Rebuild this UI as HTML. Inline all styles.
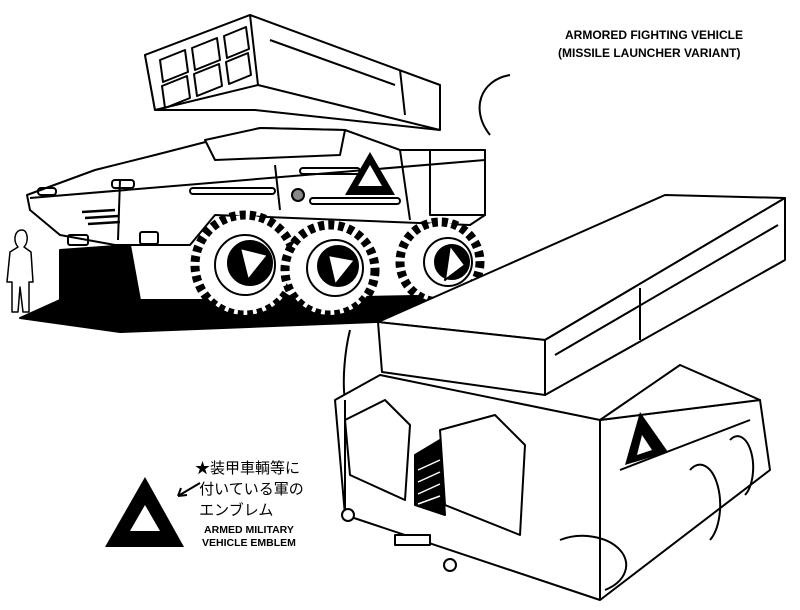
<!DOCTYPE html>
<html><head><meta charset="utf-8"><style>
html,body{margin:0;padding:0;background:#fff;width:800px;height:610px;overflow:hidden}
svg{display:block}
text{font-family:"Liberation Sans","Noto Sans CJK JP",sans-serif;fill:#000}
</style></head><body>
<svg width="800" height="610" viewBox="0 0 800 610" xmlns="http://www.w3.org/2000/svg" stroke="#000" stroke-width="2" fill="#fff" stroke-linejoin="round">
<!-- top vehicle shadow -->
<polygon points="60,250 130,245 140,300 200,300 470,295 505,305 480,318 120,332 20,318 60,300" fill="#000"/>
<!-- launcher top -->
<polygon points="145,55 250,15 440,85 440,130 255,110 155,110" />
<polygon points="145,55 250,15 258,85 155,110" />
<g fill="none" stroke-width="2">
<path d="M160,60 l25,-10 l3,22 l-25,10z M192,48 l25,-10 l3,22 l-25,10z M224,36 l22,-9 l3,22 l-22,9z M162,86 l25,-10 l3,22 l-25,10z M194,74 l25,-10 l3,22 l-25,10z M226,62 l22,-9 l3,22 l-22,9z"/>
<line x1="258" y1="85" x2="440" y2="130"/>
<line x1="400" y1="70" x2="405" y2="115"/>
<line x1="270" y1="40" x2="395" y2="85"/>
<path d="M490,135 C470,110 480,80 510,75"/>
</g>
<!-- hull -->
<polygon points="27,195 95,170 155,155 260,128 345,130 400,150 485,150 485,215 470,225 215,215 190,245 115,245 60,235 30,210"/>
<polygon points="205,140 260,128 345,130 340,155 215,160" />
<polygon points="430,150 485,150 485,215 430,215"/>
<g fill="none">
<line x1="30" y1="198" x2="485" y2="160"/>
<line x1="120" y1="180" x2="118" y2="240"/>
<line x1="275" y1="165" x2="280" y2="210"/>
<line x1="400" y1="150" x2="410" y2="220"/>
<rect x="190" y="188" width="85" height="6" rx="3"/>
<rect x="300" y="168" width="60" height="6" rx="3"/>
<rect x="310" y="198" width="90" height="6" rx="3"/>
<rect x="112" y="180" width="22" height="8" rx="3"/>
<rect x="38" y="188" width="18" height="7" rx="3"/>
<rect x="68" y="235" width="20" height="10" rx="2"/>
<rect x="140" y="232" width="18" height="12" rx="2"/>
</g>
<g stroke-width="2.5"><line x1="82" y1="212" x2="115" y2="210"/><line x1="85" y1="218" x2="118" y2="216"/><line x1="88" y1="224" x2="120" y2="222"/></g>
<polygon points="345,195 370,152 395,195" fill="#000" stroke="none"/>
<polygon points="358,186 370,165 382,186" fill="#fff" stroke="none"/>
<circle cx="298" cy="195" r="6" fill="#888"/>
<!-- wheels -->
<g>
<circle cx="245" cy="265" r="50" stroke-width="9" stroke-dasharray="6 4"/>
<circle cx="245" cy="265" r="30"/><circle cx="250" cy="263" r="22" fill="#000"/><polygon points="240,248 268,255 248,280" fill="#fff"/>
<circle cx="330" cy="270" r="45" stroke-width="9" stroke-dasharray="6 4"/>
<circle cx="335" cy="268" r="28"/><circle cx="338" cy="266" r="20" fill="#000"/><polygon points="328,255 355,260 335,285" fill="#fff"/>
<circle cx="440" cy="262" r="40" stroke-width="9" stroke-dasharray="6 4"/>
<circle cx="448" cy="262" r="24"/><circle cx="452" cy="262" r="17" fill="#000"/><polygon points="450,245 465,265 445,280" fill="#fff"/>
</g>
<!-- person -->
<path d="M22,230 c-8,0 -9,12 -4,17 l-8,5 l-3,30 l5,0 l0,30 l6,0 l2,-25 l3,25 l6,0 l0,-30 l4,0 l-2,-30 l-7,-5 c5,-5 4,-17 -2,-17z" fill="#fff" stroke-width="1.5"/>
<!-- bottom vehicle -->
<path d="M350,330 C345,350 342,380 345,400" fill="none"/>
<polygon points="335,400 380,375 600,420 760,400 770,470 600,600 345,515"/>
<polygon points="600,420 680,365 760,400" />
<polygon points="378,322 665,195 785,198 545,340"/>
<polygon points="378,322 545,340 545,395 382,372"/>
<polygon points="545,340 785,198 785,260 545,395"/>
<g fill="none">
<line x1="555" y1="355" x2="778" y2="225"/>
<line x1="640" y1="288" x2="640" y2="340"/>
<line x1="600" y1="420" x2="600" y2="600"/>
<line x1="345" y1="515" x2="345" y2="400"/>
<path d="M345,420 l40,-20 l25,25 l-5,75 l-55,-25z"/>
<path d="M440,430 l55,-15 l30,30 l-5,90 l-75,-30z"/>
<path d="M690,470 a20,40 0 0 1 20,70 M730,440 a15,30 0 0 1 15,55 M560,540 a30,20 0 0 1 45,50"/>
<line x1="620" y1="470" x2="750" y2="420"/>
</g>
<polygon points="415,455 440,440 445,515 415,505" fill="#000"/>
<g stroke="#fff" stroke-width="1.5"><line x1="418" y1="470" x2="440" y2="460"/><line x1="418" y1="482" x2="440" y2="472"/><line x1="418" y1="494" x2="440" y2="484"/><line x1="418" y1="504" x2="440" y2="496"/></g>
<polygon points="625,465 640,412 668,452" fill="#000" stroke="none"/>
<polygon points="637,455 642,435 652,450" fill="#fff" stroke="none"/>
<circle cx="348" cy="515" r="6"/><circle cx="450" cy="565" r="6"/>
<rect x="395" y="535" width="35" height="10"/>
<!-- emblem -->
<polygon points="105,547 145,477 184,547" fill="#000" stroke="none"/>
<polygon points="130,531 145,505 160,531" fill="#fff" stroke="none"/>
<path d="M200,483 l-22,13 M178,496 l9,-1 M178,496 l3,-8" fill="none" stroke-width="2"/>
</svg>
<div style="position:absolute;left:0;top:0;width:800px;height:610px;font-family:'Liberation Sans','Noto Sans CJK JP',sans-serif">
<div style="position:absolute;left:565px;top:28px;font-size:12px;font-weight:bold;white-space:nowrap">ARMORED FIGHTING VEHICLE</div>
<div style="position:absolute;left:558px;top:46px;font-size:12px;font-weight:bold;white-space:nowrap">(MISSILE LAUNCHER VARIANT)</div>
<div style="position:absolute;left:195px;top:458px;font-size:15px;line-height:21px;white-space:nowrap">★装甲車輌等に<br>&nbsp;付いている軍の<br>&nbsp;エンブレム</div>
<div style="position:absolute;left:202px;top:524px;font-size:10.5px;font-weight:bold;line-height:13px;white-space:nowrap;text-align:center">ARMED MILITARY<br>VEHICLE EMBLEM</div>
</div>
</body></html>
